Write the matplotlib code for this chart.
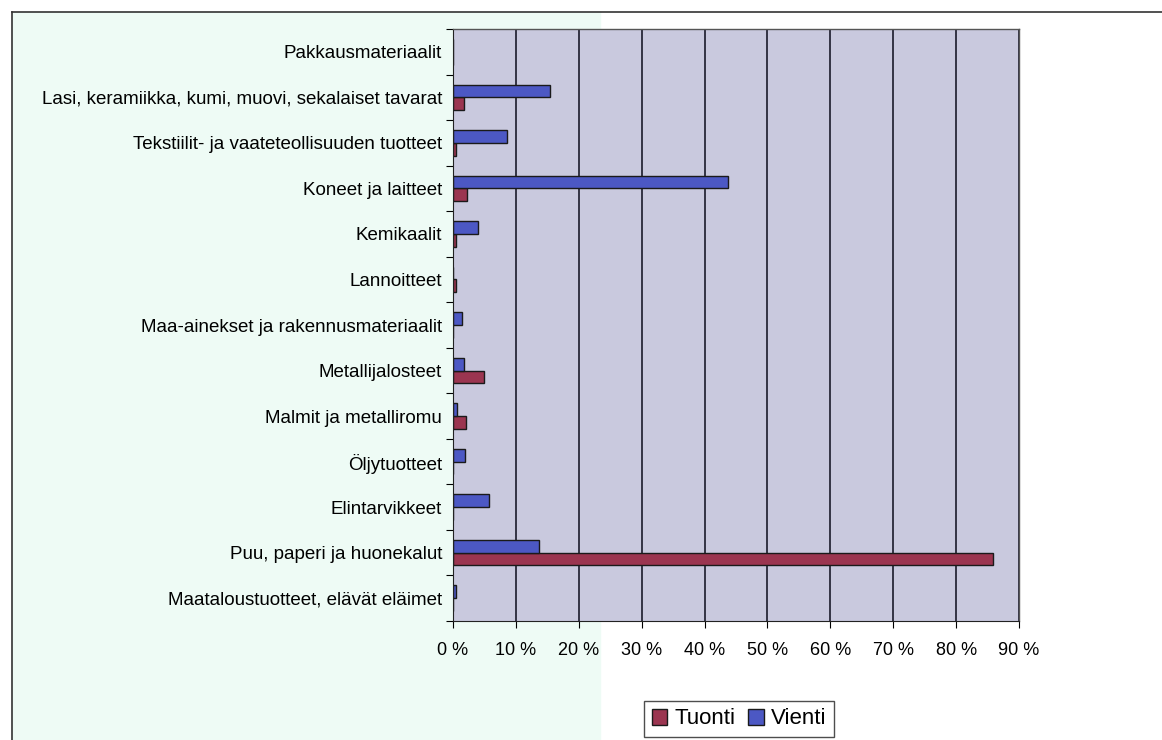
import matplotlib.pyplot as plt
import numpy as np

categories = [
    "Maataloustuotteet, elävät eläimet",
    "Puu, paperi ja huonekalut",
    "Elintarvikkeet",
    "Öljytuotteet",
    "Malmit ja metalliromu",
    "Metallijalosteet",
    "Maa-ainekset ja rakennusmateriaalit",
    "Lannoitteet",
    "Kemikaalit",
    "Koneet ja laitteet",
    "Tekstiilit- ja vaateteollisuuden tuotteet",
    "Lasi, keramiikka, kumi, muovi, sekalaiset tavarat",
    "Pakkausmateriaalit",
]
tuonti = [0.0, 85.9, 0.0, 0.0, 2.1, 4.9, 0.0, 0.4, 0.4, 2.2, 0.4, 1.8, 0.0]
vienti = [0.5, 13.6, 5.8, 1.9, 0.7, 1.8, 1.5, 0.0, 3.9, 43.8, 8.6, 15.4, 0.0]
xticks = [0, 10, 20, 30, 40, 50, 60, 70, 80, 90]

plt.rcParams['font.family'] = ['Liberation Sans', 'DejaVu Sans']

fig = plt.figure(figsize=(11.62, 7.40), dpi=100, facecolor='white')
# scanned page tint on the left part
fig.add_artist(plt.Rectangle((12/1162, 0), (600-12)/1162, 1-12/740,
                             transform=fig.transFigure, color='#eefbf5', zorder=0))

ax = fig.add_axes([453/1162, 1-621/740, (1019-453)/1162, (621-29)/740])
ax.set_facecolor('#c9c9de')

y = np.arange(len(categories))
h = 0.28
ax.barh(y - h/2, tuonti, height=h, color='#9b3550', edgecolor='#1a1a1a', linewidth=1, label='Tuonti')
ax.barh(y + h/2, vienti, height=h, color='#4c58c4', edgecolor='#1a1a1a', linewidth=1, label='Vienti')

ax.set_xlim(0, 90)
ax.set_ylim(-0.5, len(categories) - 0.5)
ax.set_xticks(xticks)
ax.set_xticklabels([f"{v} %" for v in xticks], fontsize=13)
ax.set_yticks(np.arange(len(categories) + 1) - 0.5, minor=False)
ax.set_yticklabels([])
ax.set_yticks(y, minor=True)
ax.set_yticklabels(categories, minor=True, fontsize=13.5)
ax.tick_params(axis='y', which='minor', length=0, pad=8)
ax.tick_params(axis='y', which='major', length=5, direction='out')
ax.tick_params(axis='x', length=5, direction='out', pad=10)
ax.xaxis.grid(True, color='#1a1a2a', linewidth=1.2)
ax.set_axisbelow(True)
for s in ['top', 'right']:
    ax.spines[s].set_color('#555555')
    ax.spines[s].set_linewidth(1)
for s in ['left', 'bottom']:
    ax.spines[s].set_color('#222222')

leg = fig.legend(loc='center', bbox_to_anchor=(739/1162, 1-719/740), ncol=2, fontsize=16,
                 frameon=True, fancybox=False, edgecolor='#222222', handlelength=0.7,
                 handleheight=0.7, handletextpad=0.3, columnspacing=0.6, borderpad=0.35)
leg.get_frame().set_linewidth(1)

# outer chart frame
fig.add_artist(plt.Line2D([12/1162, 12/1162], [0, 1-12/740], color='#333333', lw=1.2))
fig.add_artist(plt.Line2D([12/1162, 1], [1-12/740, 1-12/740], color='#333333', lw=1.2))

fig.savefig('out.png', dpi=100, facecolor=fig.get_facecolor())
